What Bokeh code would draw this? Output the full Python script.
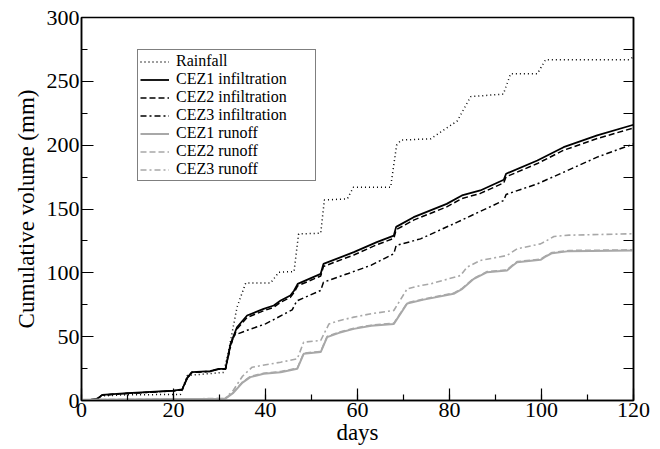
from bokeh.plotting import figure
from bokeh.models import (Range1d, LinearAxis, Legend, LegendItem, SingleIntervalTicker,
                          CustomLabelingPolicy)
from bokeh.embed import file_html
from bokeh.resources import INLINE

# ---- data ----
rain_days = [0, 3, 4, 10, 21.5, 23, 30.9, 32, 33.8, 35.7, 41.1, 42.9, 46.2, 47.2, 52, 52.8,
             57.8, 59.1, 67.2, 68.5, 69.5, 75.9, 81.7, 84.6, 91.7, 93.3, 99.1, 100.9, 119, 120]
rain_mm = [0, 0.5, 3.5, 4.5, 4.7, 19.6, 22, 39, 73, 92, 92, 100.5, 101, 130.5, 131, 157,
           158, 167, 167, 200, 204, 205, 219, 238, 240, 256, 256, 267, 267, 269]

inf12_days = [0, 2, 3.5, 4.5, 10, 20, 21.9, 23, 24, 28, 29.8, 31.3, 32.4, 33.8, 36, 39.6,
              41.8, 43.3, 45.4, 46.2, 47, 52.0, 52.6, 59.2, 64.2, 67.9, 68.4, 72.2, 79.4,
              82.7, 86.7, 91.8, 92.3, 99.1, 104.8, 112.1, 120]
cez1_inf = [0, 0.5, 1.5, 4.4, 5.7, 7.8, 8.7, 18, 22.2, 23, 24.8, 24.8, 44.4, 57.4, 66.6, 71.8,
            74.4, 78.3, 82.2, 86, 91.4, 99.2, 107, 116.2, 124, 129.2, 136, 143.6, 154,
            160.6, 164.5, 172.9, 177.6, 188, 198.4, 207.6, 216]
cez2_inf = [0, 0.5, 1.5, 4.3, 5.6, 7.6, 8.5, 17.5, 22, 22.8, 24.5, 24.5, 43.5, 56, 65, 70.3,
            73, 77, 80.8, 84.5, 89.8, 97.5, 105, 114, 122, 127, 133.8, 141.3, 151.7,
            158.2, 162.2, 170.5, 175.2, 185.6, 196, 205.2, 213.5]

inf3_days = [0, 2, 3.5, 4.5, 10, 20, 21.9, 23, 24, 28, 29.8, 31.3, 32.4, 33.1, 36, 40, 45.8,
             46.8, 52, 52.6, 58, 63, 67.9, 68.4, 73.7, 81.7, 86, 91.8, 92.3, 99.1, 104.8,
             112.1, 120]
cez3_inf = [0, 0.5, 1.5, 4.2, 5.5, 7.5, 8.4, 17.5, 22, 22.8, 24.5, 24.5, 42, 51, 55, 60, 71,
            78, 86.2, 92.7, 99.5, 106, 115, 121.4, 126.6, 139.7, 147, 156.7, 161.4, 169.7,
            178.8, 190.6, 201]

ro1_days = [0, 31.2, 33, 35, 36.7, 39.6, 43.3, 46.9, 48.3, 52, 53.4, 56, 59.2, 63, 67.9,
            70.8, 74.4, 80.9, 82.8, 85.3, 88.2, 92.5, 93.5, 94.7, 99.8, 101, 102.3, 106, 120]
cez1_ro = [0.5, 1.3, 6, 14, 18.3, 20.9, 22.2, 24.8, 36.6, 37.9, 49.6, 53, 56.1, 58.5, 60,
           76, 79, 83.6, 87.5, 95.3, 100.5, 101.8, 105, 108.3, 110.2, 113, 115.4, 117, 117.5]
cez2_ro = [0.6, 1.5, 6.4, 14.5, 18.8, 21.4, 22.7, 25.3, 37.1, 38.4, 50.1, 53.5, 56.6, 59, 60.5,
           76.5, 79.5, 84.1, 88, 95.8, 101, 102.3, 105.5, 108.8, 110.7, 113.5, 115.9, 117.5, 118]

ro3_days = [0, 31.2, 33, 35, 37.1, 43.3, 46.9, 48.3, 52, 53.8, 56, 59.2, 63, 67.9, 70.8,
            73.7, 75.9, 82.4, 83.8, 86.7, 92.5, 93.5, 94.7, 99.8, 101, 102.7, 106, 120]
cez3_ro = [0.5, 1.6, 8, 19, 26.1, 30, 32.6, 45.7, 47, 60, 62.5, 65.3, 68, 70.5, 87.5,
           90, 91.4, 97.9, 104.4, 109.7, 113.6, 116, 118.8, 122.7, 125, 128.5, 129.5, 130.6]

labels = ["Rainfall", "CEZ1 infiltration", "CEZ2 infiltration", "CEZ3 infiltration",
          "CEZ1 runoff", "CEZ2 runoff", "CEZ3 runoff"]

FONT = "Liberation Serif"
GRAY = "#a8a8a8"

p = figure(width=660, height=449, output_backend="svg", toolbar_location=None,
           x_range=Range1d(0, 120), y_range=Range1d(0, 300),
           min_border_left=81, min_border_right=27, min_border_top=17, min_border_bottom=49)
p.background_fill_color = "white"
p.border_fill_color = "white"
p.xgrid.visible = False
p.ygrid.visible = False
p.outline_line_color = "black"
p.outline_line_width = 1.5
p.outline_line_alpha = 1

series = [
    (rain_days, rain_mm, "black", "1 3", 1.5),
    (inf12_days, cez1_inf, "black", "solid", 1.8),
    (inf12_days, cez2_inf, "black", "6 3", 1.5),
    (inf3_days, cez3_inf, "black", "6 3 2 3", 1.5),
    (ro1_days, cez1_ro, GRAY, "solid", 2),
    (ro1_days, cez2_ro, GRAY, "6 3", 1.6),
    (ro3_days, cez3_ro, GRAY, "6 3 2 3", 1.6),
]
items = []
for (xs, ys, col, dash, lw), lab in zip(series, labels):
    r = p.line(xs, ys, line_color=col, line_dash=dash, line_width=lw)
    items.append(LegendItem(label=lab, renderers=[r]))

# axes
xa = p.xaxis[0]
xa.ticker = SingleIntervalTicker(interval=20, num_minor_ticks=2)
xa.axis_label = "days"
ya = p.yaxis[0]
ya.ticker = SingleIntervalTicker(interval=50, num_minor_ticks=2)
ya.axis_label = "Cumulative volume (mm)"
for ax in (xa, ya):
    ax.axis_line_color = "black"
    ax.axis_line_width = 1.5
    ax.major_tick_in = 12
    ax.major_tick_out = 0
    ax.minor_tick_in = 6
    ax.minor_tick_out = 0
    ax.major_tick_line_color = "black"
    ax.minor_tick_line_color = "black"
    ax.major_tick_line_width = 1.2
    ax.minor_tick_line_width = 1.2
    ax.major_label_text_font = FONT
    ax.major_label_text_font_size = "22px"
    ax.major_label_text_color = "black"
    ax.axis_label_text_font = FONT
    ax.axis_label_text_font_size = "23px"
    ax.axis_label_text_font_style = "normal"
    ax.axis_label_text_color = "black"
    ax.major_label_standoff = 2
xa.axis_label_standoff = 0
ya.axis_label_standoff = 5

ra = LinearAxis(ticker=SingleIntervalTicker(interval=25, num_minor_ticks=0))
ra.major_label_policy = CustomLabelingPolicy(
    code="for (const i of [...indices]) { indices.unset(i) } return indices")
ra.major_tick_in = 10
ra.major_tick_out = 0
ra.minor_tick_in = 0
ra.minor_tick_out = 0
ra.axis_line_color = "black"
ra.axis_line_width = 1.5
ra.major_tick_line_width = 1.2
ra.major_label_standoff = 0
p.add_layout(ra, "right")

legend = Legend(items=items, location=(56, 219))
legend.label_text_font = FONT
legend.label_text_font_size = "16px"
legend.label_text_color = "black"
legend.glyph_width = 29
legend.glyph_height = 15
legend.label_height = 15
legend.label_width = 137
legend.spacing = 0
legend.padding = 2
legend.margin = 0
legend.label_standoff = 7
legend.border_line_color = "black"
legend.border_line_width = 1.5
legend.background_fill_color = "white"
legend.background_fill_alpha = 1
p.add_layout(legend)

open("out.html", "w").write(file_html(p, INLINE))
